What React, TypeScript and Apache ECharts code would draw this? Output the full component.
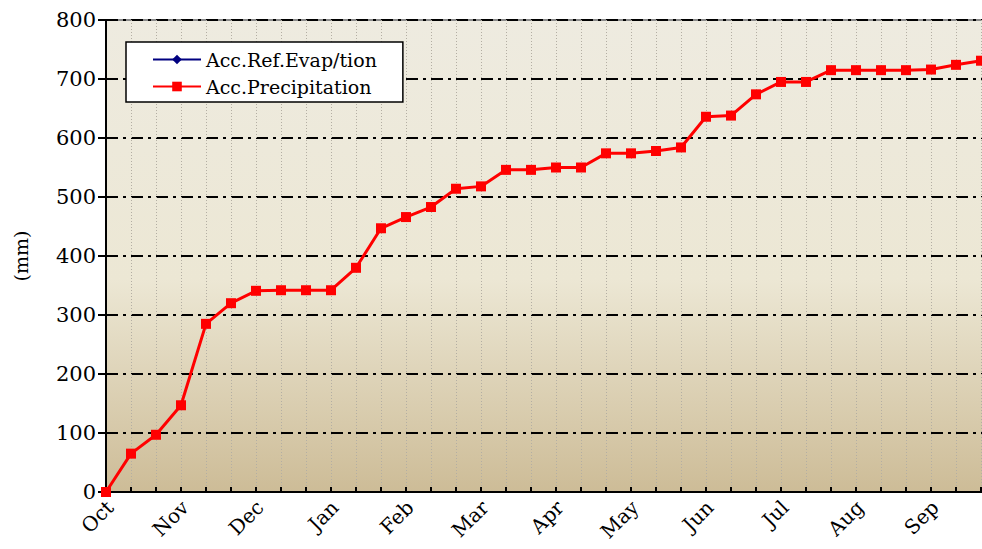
import React, { useEffect, useRef } from "react";
import * as echarts from "echarts";

const months = ["Oct", "Nov", "Dec", "Jan", "Feb", "Mar", "Apr", "May", "Jun", "Jul", "Aug", "Sep"];
// 36 ten-day periods (3 per month) plus closing boundary
const categories: string[] = [];
months.forEach((m) => { categories.push(m, "", ""); });
categories.push("");

const precipitation = [
  0, 65, 97, 147, 285, 320, 341, 342, 342, 342, 380, 447,
  466, 483, 514, 518, 546, 546, 550, 550, 574, 574, 578, 584,
  636, 638, 674, 695, 695, 715, 715, 715, 715, 716, 724, 731,
];
const evaporation = [0];

const yTicks = [0, 100, 200, 300, 400, 500, 600, 700, 800];

export default function App() {
  const ref = useRef<HTMLDivElement>(null);
  useEffect(() => {
    document.body.style.margin = "0";
    const chart = echarts.init(ref.current!, null, { renderer: "svg" });
    const font = "DejaVu Serif";
    chart.setOption({
      animation: false,
      backgroundColor: "#ffffff",
      textStyle: { fontFamily: font },
      grid: {
        left: 106,
        top: 20,
        bottom: 57,
        right: 0,
        containLabel: false,
        show: true,
        borderWidth: 2,
        borderColor: "#8a8a8a",
        backgroundColor: new echarts.graphic.LinearGradient(0, 0, 0, 1, [
          { offset: 0, color: "#EEEBE0" },
          { offset: 0.55, color: "#ECE7D4" },
          { offset: 1, color: "#CDBC97" },
        ]),
      },
      legend: {
        orient: "vertical",
        left: 126,
        top: 42,
        backgroundColor: "#ffffff",
        borderColor: "#000000",
        borderWidth: 1.5,
        borderRadius: 0,
        padding: [8, 26, 6, 26],
        itemWidth: 48,
        itemHeight: 12,
        itemGap: 8,
        textStyle: { fontFamily: font, fontSize: 19, color: "#000" },
        data: ["Acc.Ref.Evap/tion", "Acc.Precipitation"],
      },
      xAxis: {
        type: "category",
        boundaryGap: false,
        data: categories,
        axisLine: { lineStyle: { color: "#000", width: 2 } },
        axisTick: { show: true, inside: true, length: 5, interval: 0, lineStyle: { color: "#000", width: 2 } },
        axisLabel: { show: false },
        splitLine: {
          show: true,
          interval: 0,
          lineStyle: { color: "#b3aea3", width: 1, type: [1, 2] },
        },
      },
      yAxis: {
        type: "value",
        min: 0,
        max: 800,
        interval: 100,
        name: "(mm)",
        nameLocation: "middle",
        nameGap: 76,
        nameRotate: 90,
        nameTextStyle: { fontSize: 19, color: "#000", fontFamily: font },
        axisLine: { show: true, lineStyle: { color: "#000", width: 2 } },
        axisTick: { show: true, length: 8, lineStyle: { color: "#000", width: 2 } },
        axisLabel: {
          fontSize: 21,
          color: "#000",
          fontFamily: font,
          margin: 10,
          formatter: (v: number) => (yTicks.includes(v) ? String(v) : ""),
        },
        splitLine: {
          show: true,
          lineStyle: { color: "#000", width: 2, type: [12, 5, 3, 5] },
        },
      },
      series: [
        {
          name: "Acc.Ref.Evap/tion",
          type: "line",
          data: evaporation,
          symbol: "diamond",
          symbolSize: 10,
          itemStyle: { color: "#000080" },
          lineStyle: { color: "#000080", width: 3 },
        },
        {
          name: "Acc.Precipitation",
          type: "line",
          data: precipitation,
          symbol: "rect",
          symbolSize: 10,
          itemStyle: { color: "#FF0000" },
          lineStyle: { color: "#FF0000", width: 3 },
        },
      ],
    });
    // rotated month labels at the month ticks, positioned through the axis scale
    const y0 = chart.convertToPixel({ yAxisIndex: 0 }, 0) as number;
    const labels = months.map((m, i) => {
      const x = chart.convertToPixel({ xAxisIndex: 0 }, i * 3) as number;
      return {
        type: "text",
        x: x + 4,
        y: y0 + 12,
        rotation: Math.PI / 4,
        silent: true,
        style: {
          text: m,
          fontFamily: font,
          fontSize: 20,
          fill: "#000",
          align: "right",
          verticalAlign: "middle",
        },
      };
    });
    chart.setOption({ graphic: labels });
    return () => chart.dispose();
  }, []);
  return (
    <div style={{ width: 982, height: 549, overflow: "hidden", position: "relative" }}>
      <div ref={ref} style={{ width: 1006, height: 549 }} />
    </div>
  );
}
